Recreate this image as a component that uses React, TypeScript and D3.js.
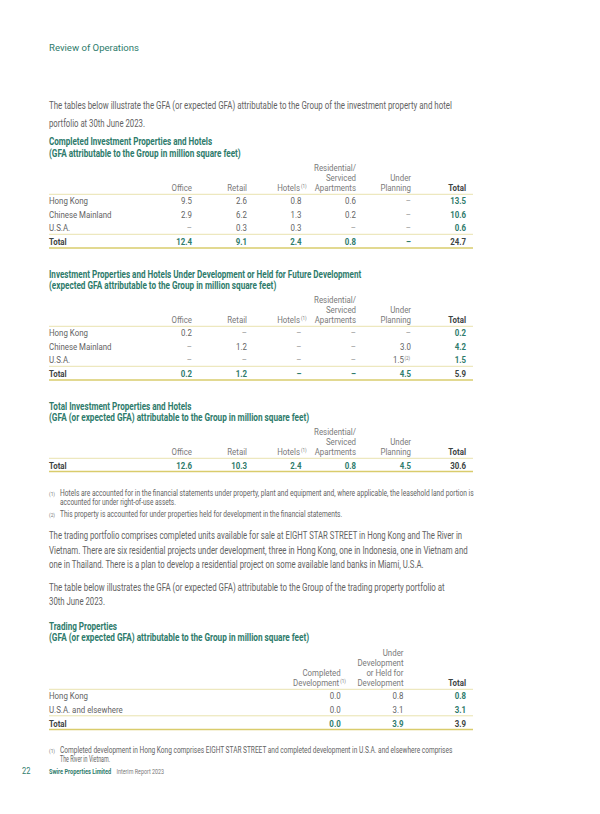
import React, { useLayoutEffect, useRef, useState } from "react";
import * as d3 from "d3";

// ---------- DATA ----------
const invRows = ["Hong Kong", "Chinese Mainland", "U.S.A."];
const invHeaders = [["Office"], ["Retail"], ["Hotels"], ["Residential/", "Serviced", "Apartments"], ["Under", "Planning"], ["Total"]];

// Completed investment properties and hotels
const t1Office = [9.5, 2.9, null];
const t1Retail = [2.6, 6.2, 0.3];
const t1Hotels = [0.8, 1.3, 0.3];
const t1Resid = [0.6, 0.2, null];
const t1Under = [null, null, null];
const t1Total = [13.5, 10.6, 0.6];
const t1Totals = [12.4, 9.1, 2.4, 0.8, null, 24.7];

// Under development or held for future development
const t2Office = [0.2, null, null];
const t2Retail = [null, 1.2, null];
const t2Hotels = [null, null, null];
const t2Resid = [null, null, null];
const t2Under = [null, 3.0, 1.5];
const t2Total = [0.2, 4.2, 1.5];
const t2Totals = [0.2, 1.2, null, null, 4.5, 5.9];

// Total investment properties and hotels
const t3Totals = [12.6, 10.3, 2.4, 0.8, 4.5, 30.6];

// Trading properties
const trRows = ["Hong Kong", "U.S.A. and elsewhere"];
const trHeaders = [["Completed", "Development"], ["Under", "Development", "or Held for", "Development"], ["Total"]];
const trCompleted = [0.0, 0.0];
const trUnderDev = [0.8, 3.1];
const trTotal = [0.8, 3.1];
const trTotals = [0.0, 3.9, 3.9];

// ---------- STYLE ----------
const FONT = "Roboto, 'Open Sans', sans-serif";
const SX = 0.83;
const GREEN = "#2e7b6b";
const GRAY = "#636363";
const HEAD = "#7a7a7a";
const DARK = "#3d4443";
const LINE = "#e7e0a6";
const THICK = "#d9cc6c";
const LEFT = 49;
const RIGHT = 473;
const REG = 400;

const fmt = (v: number | null) => (v == null ? "\u2013" : d3.format(".1f")(v));

// condensed text helper
function T({ x, y, children, anchor = "start", size = 9.5, fill = GRAY, weight = REG }: any) {
  return (
    <text
      transform={`translate(${x},${y}) scale(${SX},1)`}
      textAnchor={anchor}
      fontSize={size}
      fill={fill}
      fontWeight={weight}
      fontFamily={FONT}
    >
      {children}
    </text>
  );
}

type TableProps = {
  hb: number;
  cols: number[];
  headers: string[][];
  headerSup?: Record<number, string>;
  rows: string[];
  series: (number | null)[][];
  totals: (number | null)[];
  cellSup?: Record<string, string>;
};

function Sup({ x, y, t }: { x: number; y: number; t: string }) {
  return (
    <T x={x} y={y - 3.2} size={5.5} fill={HEAD}>
      {t}
    </T>
  );
}

function Table({ hb, cols, headers, headerSup = {}, rows, series, totals, cellSup = {} }: TableProps) {
  const rowY = d3.scaleLinear().domain([0, 1]).range([hb + 13, hb + 26.5]);
  const last = cols.length - 1;
  const lastRowY = rows.length ? rowY(rows.length - 1) : hb;
  const totalY = rows.length ? lastRowY + 14 : hb + 13.5;
  return (
    <g>
      {headers.map((lines, c) =>
        lines.map((ln, k) => {
          const y = hb - (lines.length - 1 - k) * 10;
          const isLastLine = k === lines.length - 1;
          const sup = isLastLine ? headerSup[c] : undefined;
          return (
            <g key={`h${c}-${k}`}>
              <T
                x={sup ? cols[c] - 1.5 : cols[c]}
                y={y}
                anchor="end"
                fill={c === last ? DARK : HEAD}
                weight={c === last ? 700 : REG}
              >
                {ln}
              </T>
              {sup && <Sup x={cols[c] - 0.5} y={y} t={sup} />}
            </g>
          );
        })
      )}
      <line x1={LEFT} x2={RIGHT} y1={hb + 3.3} y2={hb + 3.3} stroke={LINE} strokeWidth={0.9} />
      {rows.map((r, i) => (
        <g key={r}>
          <T x={LEFT} y={rowY(i)} fill={GRAY}>
            {r}
          </T>
          {series.map((s, c) => {
            const sup = cellSup[`${c},${i}`];
            return (
              <g key={c}>
                <T
                  x={sup ? cols[c] - 7 : cols[c]}
                  y={rowY(i)}
                  anchor="end"
                  fill={c === last ? GREEN : s[i] == null ? "#9a9a9a" : GRAY}
                  weight={c === last ? 700 : REG}
                >
                  {fmt(s[i])}
                </T>
                {sup && <Sup x={cols[c] - 6.5} y={rowY(i)} t={sup} />}
              </g>
            );
          })}
        </g>
      ))}
      {rows.length > 0 && (
        <line x1={LEFT} x2={RIGHT} y1={lastRowY + 3.3} y2={lastRowY + 3.3} stroke={LINE} strokeWidth={0.9} />
      )}
      <T x={LEFT} y={totalY} fill={DARK} weight={700}>
        Total
      </T>
      {totals.map((v, c) => (
        <T key={`t${c}`} x={cols[c]} y={totalY} anchor="end" fill={c === last ? DARK : GREEN} weight={700}>
          {fmt(v)}
        </T>
      ))}
      <line x1={LEFT} x2={RIGHT} y1={totalY + 3} y2={totalY + 3} stroke={THICK} strokeWidth={1.6} />
    </g>
  );
}

// text fitted to a measured width by horizontal scaling
function Line({ x, y, w, t, size = 10, fill = GRAY, weight = REG }: { x: number; y: number; w: number; t: string; size?: number; fill?: string; weight?: number }) {
  const ref = useRef<SVGTextElement>(null);
  const [sx, setSx] = useState(0.83);
  useLayoutEffect(() => {
    if (ref.current) {
      const n = ref.current.getComputedTextLength();
      if (n > 0) setSx(w / n);
    }
  }, [w, t, size, weight]);
  return (
    <text
      ref={ref}
      transform={`translate(${x},${y}) scale(${sx},1)`}
      fontSize={size}
      fill={fill}
      fontWeight={weight}
      fontFamily={FONT}
    >
      {t}
    </text>
  );
}

export default function App() {
  const invCols = [192, 247, 301.5, 356, 411, 466];
  const trCols = [340.7, 403.5, 466];
  return (
    <svg width={600} height={814} style={{ position: "absolute", left: 0, top: 0, background: "#fff" }}>
      <rect width={600} height={814} fill="#fff" />
      <Line x={LEFT} y={50.5} w={90} t="Review of Operations" size={9.5} fill={GREEN} />

      <Line x={LEFT} y={108.5} w={403} t="The tables below illustrate the GFA (or expected GFA) attributable to the Group of the investment property and hotel" />
      <Line x={LEFT} y={126.5} w={96} t="portfolio at 30th June 2023." />

      <Line x={LEFT} y={144.5} w={163} t="Completed Investment Properties and Hotels" fill={GREEN} weight={700} />
      <Line x={LEFT} y={156.5} w={191.5} t="(GFA attributable to the Group in million square feet)" fill={GREEN} weight={700} />
      <Table
        hb={191}
        cols={invCols}
        headers={invHeaders}
        headerSup={{ 2: "(1)" }}
        rows={invRows}
        series={[t1Office, t1Retail, t1Hotels, t1Resid, t1Under, t1Total]}
        totals={t1Totals}
      />

      <Line x={LEFT} y={277.5} w={312} t="Investment Properties and Hotels Under Development or Held for Future Development" fill={GREEN} weight={700} />
      <Line x={LEFT} y={289} w={227} t="(expected GFA attributable to the Group in million square feet)" fill={GREEN} weight={700} />
      <Table
        hb={323}
        cols={invCols}
        headers={invHeaders}
        headerSup={{ 2: "(1)" }}
        rows={invRows}
        series={[t2Office, t2Retail, t2Hotels, t2Resid, t2Under, t2Total]}
        totals={t2Totals}
        cellSup={{ "4,2": "(2)" }}
      />

      <Line x={LEFT} y={409.5} w={142.3} t="Total Investment Properties and Hotels" fill={GREEN} weight={700} />
      <Line x={LEFT} y={421} w={260.3} t="(GFA (or expected GFA) attributable to the Group in million square feet)" fill={GREEN} weight={700} />
      <Table hb={455} cols={invCols} headers={invHeaders} headerSup={{ 2: "(1)" }} rows={[]} series={[]} totals={t3Totals} />

      <T x={LEFT} y={496} size={5.8} fill={HEAD}>(1)</T>
      <Line x={60} y={496} w={412.7} t="Hotels are accounted for in the financial statements under property, plant and equipment and, where applicable, the leasehold land portion is" size={8.2} />
      <Line x={60} y={504.5} w={115.7} t="accounted for under right-of-use assets." size={8.2} />
      <T x={LEFT} y={516.8} size={5.8} fill={HEAD}>(2)</T>
      <Line x={60} y={516.8} w={281.7} t="This property is accounted for under properties held for development in the financial statements." size={8.2} />

      <Line x={LEFT} y={539.2} w={412.7} t="The trading portfolio comprises completed units available for sale at EIGHT STAR STREET in Hong Kong and The River in" />
      <Line x={LEFT} y={553.5} w={418.3} t="Vietnam. There are six residential projects under development, three in Hong Kong, one in Indonesia, one in Vietnam and" />
      <Line x={LEFT} y={567.8} w={374.3} t="one in Thailand. There is a plan to develop a residential project on some available land banks in Miami, U.S.A." />

      <Line x={LEFT} y={590.8} w={395.3} t="The table below illustrates the GFA (or expected GFA) attributable to the Group of the trading property portfolio at" />
      <Line x={LEFT} y={605.2} w={56} t="30th June 2023." />

      <Line x={LEFT} y={630} w={68} t="Trading Properties" fill={GREEN} weight={700} />
      <Line x={LEFT} y={641} w={260.3} t="(GFA (or expected GFA) attributable to the Group in million square feet)" fill={GREEN} weight={700} />
      <Table
        hb={686}
        cols={trCols}
        headers={trHeaders}
        headerSup={{ 0: "(1)" }}
        rows={trRows}
        series={[trCompleted, trUnderDev, trTotal]}
        totals={trTotals}
      />

      <T x={LEFT} y={753} size={5.8} fill={HEAD}>(1)</T>
      <Line x={60} y={753} w={392.3} t="Completed development in Hong Kong comprises EIGHT STAR STREET and completed development in U.S.A. and elsewhere comprises" size={8.2} />
      <Line x={60} y={761.5} w={50} t="The River in Vietnam." size={8.2} />

      <T x={22} y={774} size={9} fill={GREEN}>22</T>
      <Line x={LEFT} y={773.5} w={62} t="Swire Properties Limited" size={7.3} fill={GREEN} weight={700} />
      <Line x={116.5} y={773.5} w={47.5} t="Interim Report 2023" size={7.3} fill={HEAD} />
    </svg>
  );
}
